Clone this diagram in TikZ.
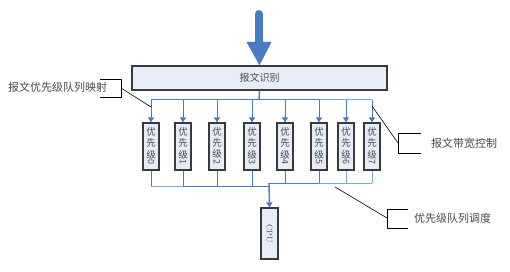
\documentclass[tikz,border=0pt]{standalone}
\usepackage{fontspec}
\usepackage{graphicx}
\newfontfamily\cjk{Noto Sans CJK SC}
\usetikzlibrary{arrows.meta}
\definecolor{lineblue}{HTML}{4A7CC4}
\definecolor{lightblue}{HTML}{7FA6DA}
\definecolor{boxfill}{HTML}{E6EDF8}
\definecolor{boxedge}{HTML}{3A3A3A}
\definecolor{txt}{HTML}{4A4A4A}
\tikzset{
  bluebox/.style={draw=boxedge, line width=1.2pt, fill=boxfill, inner sep=0pt},
  qbox/.style={bluebox, minimum width=16pt, minimum height=47pt, font=\cjk\fontsize{9.5}{9.5}\selectfont, text=txt, align=center},
  bus/.style={draw=lineblue, line width=1pt},
  lbus/.style={draw=lightblue, line width=1pt},
  arr/.style={bus, -{Triangle[length=5pt,width=6pt]}},
  callout/.style={draw=black, line width=0.6pt},
  lbl/.style={font=\cjk\fontsize{11}{12}\selectfont, text=txt, inner sep=0pt}
}
\newcommand{\qlabel}[1]{\shortstack{优\\[-0.5pt]先\\[-0.5pt]级\\[-2pt]\rotatebox[origin=c]{-90}{\fontsize{9}{9}\selectfont #1}}}
\begin{document}
\begin{tikzpicture}[x=1pt,y=-1pt]
\useasboundingbox (0,0) rectangle (510,272);
% big incoming arrow
\coordinate (in) at (259,14);
\node[bluebox, minimum width=255pt, minimum height=24pt] (id) at (259.5,78) {\cjk\fontsize{10}{10}\selectfont\color{txt}报文识别};
\draw[draw=lineblue, line width=8pt, line cap=round] (in) -- (259,44);
\fill[lineblue] (246.5,42) -- (271.5,42) -- (id.north) -- cycle;
% queue boxes
\foreach \i/\x in {0/151,1/183,2/217,3/252,4/285,5/319,6/346,7/372}{
  \node[qbox] (q\i) at (\x,146.5) {\qlabel{\i}};
}
% distribution bus
\coordinate (tb) at (259,100);
\draw[bus, line width=1.4pt] (id.south) -- (tb);
\draw[bus] (q0.north |- tb) -- (q5.north |- tb);
\draw[lbus] (q5.north |- tb) -- (q7.north |- tb);
\foreach \i in {0,...,7}{
  \draw[arr] (q\i.north |- tb) -- (q\i.north);
}
% CPU
\node[bluebox, minimum width=17pt, minimum height=51pt] (cpu) at (269.5,233.5) {\rotatebox{-90}{\fontsize{8}{8}\selectfont\color{txt}CPU}};
\coordinate (lb) at (269,186);
\coordinate (rb) at (269,183);
\foreach \i in {0,...,3}{ \draw[bus] (q\i.south) -- (q\i.south |- lb); }
\foreach \i in {4,5}{ \draw[bus] (q\i.south) -- (q\i.south |- rb); }
\foreach \i in {6,7}{ \draw[lbus] (q\i.south) -- (q\i.south |- rb); }
\draw[lbus] (q0.south |- lb) -- (q1.south |- lb);
\draw[bus] (q1.south |- lb) -- (lb);
\draw[bus] (rb) -- (q5.south |- rb);
\draw[lbus] (q5.south |- rb) -- (q7.south |- rb);
\draw[arr, line width=1.4pt] (rb) -- (cpu.north);
% callout 1
\node[lbl, anchor=west] (c1) at (8,87) {报文优先级队列映射};
\coordinate (b1a) at (100,79); \coordinate (b1b) at (121,79);
\coordinate (b1c) at (121,97); \coordinate (b1d) at (100,97);
\draw[callout] (b1a) -- (b1b) -- (b1c) -- (b1d);
\coordinate (p1) at (151,107);
\draw[callout] (121,88) -- (p1);
% callout 2
\node[lbl, anchor=west] (c2) at (431,143) {报文带宽控制};
\draw[callout] (421,133) -- (398,133) -- (398,153) -- (421,153);
\coordinate (p2) at (372,106);
\draw[callout] (p2) -- (398,143);
% callout 3
\node[lbl, anchor=west] (c3) at (414,218) {优先级队列调度};
\draw[callout] (408,209) -- (387,209) -- (387,228) -- (408,228);
\coordinate (p3) at (335,187);
\draw[callout] (p3) -- (387,218);
\end{tikzpicture}
\end{document}
